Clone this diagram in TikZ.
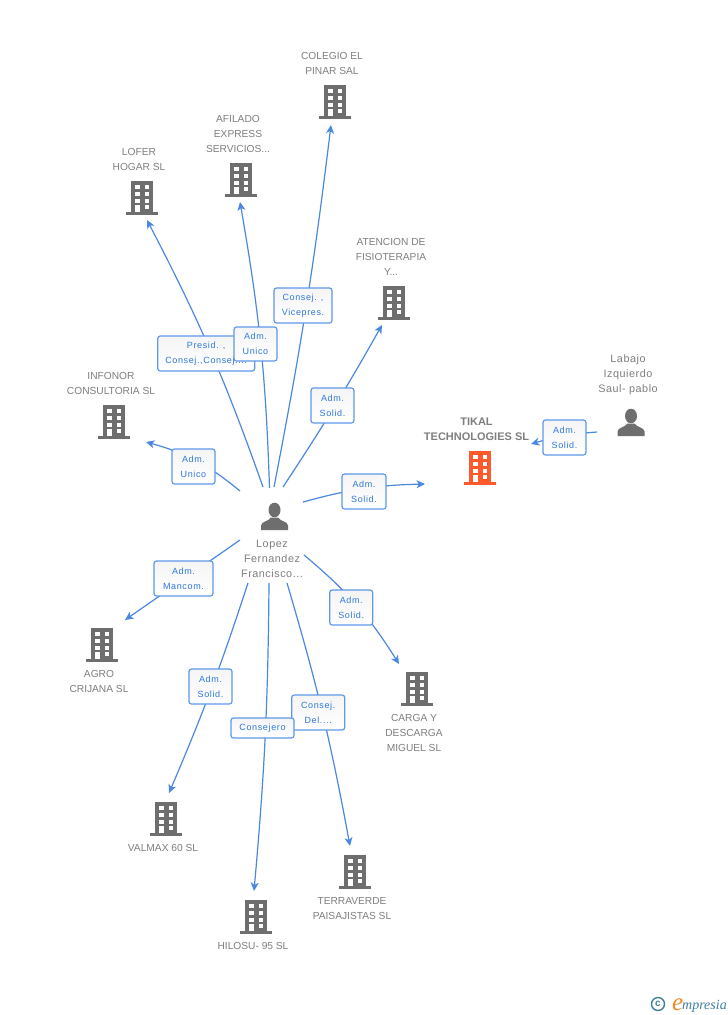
\documentclass[tikz,border=0pt]{standalone}
\usepackage{fontspec}
\usetikzlibrary{arrows.meta}
\setmainfont{Liberation Sans}
\newfontfamily\lab[LetterSpace=7]{Liberation Sans}
\newfontfamily\labb[LetterSpace=5]{Liberation Sans}
\newfontfamily\logofont[Script=Latin]{Liberation Serif}
\definecolor{edgeblue}{HTML}{4A88E2}
\definecolor{boxblue}{HTML}{5F98E8}
\definecolor{labblue}{HTML}{2F78DC}
\definecolor{icongrey}{HTML}{6E6E6E}
\definecolor{txtgrey}{HTML}{7F7F7F}
\definecolor{tikal}{HTML}{FF5A2B}
\definecolor{logoteal}{HTML}{3F7F9F}
\definecolor{logoorange}{HTML}{F08A1E}
\tikzset{
  x=1pt,y=-1pt,
  link/.style={draw=edgeblue,line width=1.2pt,-{Stealth[length=8.5pt,width=8pt,inset=2.4pt]}},
  rel/.style={draw=boxblue,line width=1.2pt,rounded corners=2.5pt,top color=black!4,bottom color=white,
    text=labblue,font=\lab\fontsize{9}{15}\selectfont,align=center,inner sep=0pt},
  reltext/.style={text=labblue,font=\lab\fontsize{9}{15}\selectfont,align=center,inner sep=0pt},
  entity/.style={text=txtgrey,font=\fontsize{10.2}{15}\selectfont,align=center,inner sep=0pt},
  person name/.style={entity,font=\labb\fontsize{10.8}{15}\selectfont},
  bldg/.pic={
    \fill[pic actions] (-16,14) rectangle (16,17);
    \fill[pic actions] (-11,-17) rectangle (11,14.5);
    \foreach \yy/\hh in {-13/-8.7,-6.2/-2,0.5/4.7}{
      \fill[white] (-7,\yy) rectangle (-2.5,\hh);
      \fill[white] (2.7,\yy) rectangle (7.2,\hh);
    }
    \fill[white] (2.7,6.7) rectangle (7.2,11);
    \fill[white] (-7,6.7) rectangle (-2.5,14);
  },
  human/.pic={
    \fill[pic actions] (0,-6.5) ellipse [x radius=6,y radius=7.3];
    \fill[pic actions] (-13.5,13.5) -- (-13.5,9) .. controls (-13.5,5) and (-6,5) .. (-3.5,1)
      -- (3.5,1) .. controls (6,5) and (13.5,5) .. (13.5,9) -- (13.5,13.5) -- cycle;
  },
}
\begin{document}
\begin{tikzpicture}
\useasboundingbox[fill=white] (0,0) rectangle (728,1015);

% connector ends
\coordinate (s1) at (274,487);   \coordinate (e1) at (331,125);
\coordinate (s2) at (269.5,488); \coordinate (e2) at (240,202);
\coordinate (s3) at (263,487);   \coordinate (e3) at (147,220);
\coordinate (s4) at (283,487);   \coordinate (e4) at (382,325);
\coordinate (s5) at (240,491);   \coordinate (e5) at (146,442);
\coordinate (s6) at (303,502);   \coordinate (e6) at (425,484);
\coordinate (s7) at (597,432);   \coordinate (e7) at (531,444);
\coordinate (s8) at (240,540);   \coordinate (e8) at (125,620);
\coordinate (s9) at (248,583);   \coordinate (e9) at (169,793);
\coordinate (s10) at (269,583);  \coordinate (e10) at (254,891);
\coordinate (s11) at (287,583);  \coordinate (e11) at (350,846);
\coordinate (s12) at (304,555);  \coordinate (e12) at (399,664);

\draw[link] (s1) to[bend right=2] (e1);
\draw[link] (s2) to[bend right=4] (e2);
\draw[link] (s3) to[bend right=4] (e3);
\draw[link] (s4) to[bend right=2] (e4);
\draw[link] (s5) to[bend right=12] (e5);
\draw[link] (s6) to[bend left=7] (e6);
\draw[link] (s7) to[bend right=6] (e7);
\draw[link] (s8) to (e8);
\draw[link] (s9) to[bend left=2.5] (e9);
\draw[link] (s10) to[bend left=2.3] (e10);
\draw[link] (s11) to[bend left=3] (e11);
\draw[link] (s12) to[bend left=9] (e12);

% relation labels
\node[rel,minimum width=97pt,minimum height=35pt] (r3) at (206.2,353.5) {};
\node[rel,minimum width=43pt,minimum height=34pt] (r2) at (255.5,344) {Adm.\\Unico};
\node[reltext] (r3t) at (206.2,354) {Presid. ,\\Consej.,Consej....};
\node[rel,minimum width=58pt,minimum height=35pt] (r1) at (303,305.5) {Consej. ,\\Vicepres.};
\node[rel,minimum width=43pt,minimum height=35pt] (r4) at (332.5,405.5) {Adm.\\Solid.};
\node[rel,minimum width=43pt,minimum height=35pt] (r5) at (193.5,466.5) {Adm.\\Unico};
\node[rel,minimum width=44pt,minimum height=35pt] (r6) at (364,491.5) {Adm.\\Solid.};
\node[rel,minimum width=43pt,minimum height=35pt] (r7) at (564.5,437.5) {Adm.\\Solid.};
\node[rel,minimum width=59pt,minimum height=35pt] (r8) at (183.5,578.5) {Adm.\\Mancom.};
\node[rel,minimum width=43pt,minimum height=35pt] (r9) at (210.5,686.5) {Adm.\\Solid.};
\node[rel,minimum width=53pt,minimum height=35pt] (r11) at (318.2,712.5) {Consej.\\Del....};
\node[rel,minimum width=63pt,minimum height=20pt] (r10) at (262.5,728) {Consejero};
\node[rel,minimum width=43pt,minimum height=35pt] (r12) at (351.2,607.5) {Adm.\\Solid.};

% buildings
\pic[fill=icongrey] (b1) at (335,102) {bldg};
\pic[fill=icongrey] (b2) at (241,180) {bldg};
\pic[fill=icongrey] (b3) at (142,198) {bldg};
\pic[fill=icongrey] (b4) at (394,303) {bldg};
\pic[fill=icongrey] (b5) at (114,422) {bldg};
\pic[fill=tikal]    (b6) at (480,468) {bldg};
\pic[fill=icongrey] (b8) at (102,645) {bldg};
\pic[fill=icongrey] (b9) at (166,819) {bldg};
\pic[fill=icongrey] (b10) at (256,917) {bldg};
\pic[fill=icongrey] (b11) at (355,872) {bldg};
\pic[fill=icongrey] (b12) at (417,689) {bldg};
\pic[fill=icongrey] (p1) at (631,422.5) {human};
\pic[fill=icongrey] (p2) at (274.5,516.5) {human};

% names
\node[entity] (n1) at (332,63.5) {COLEGIO EL\\PINAR SAL};
\node[entity] (n2) at (238,134) {AFILADO\\EXPRESS\\SERVICIOS...};
\node[entity] (n3) at (139,159.5) {LOFER\\HOGAR SL};
\node[entity] (n4) at (391,257) {ATENCION DE\\FISIOTERAPIA\\Y...};
\node[entity] (n5) at (111,383.5) {INFONOR\\CONSULTORIA SL};
\node[entity,font=\bfseries\fontsize{11}{15}\selectfont] (n6) at (476.5,429.5) {TIKAL\\TECHNOLOGIES SL};
\node[person name] (n7) at (628,375) {Labajo\\Izquierdo\\Saul- pablo};
\node[person name] (n0) at (272,559) {Lopez\\Fernandez\\Francisco...};
\node[entity] (n8) at (99,681.5) {AGRO\\CRIJANA SL};
\node[entity] (n9) at (163,848) {VALMAX 60 SL};
\node[entity] (n10) at (253,946) {HILOSU- 95 SL};
\node[entity] (n11) at (352,908.5) {TERRAVERDE\\PAISAJISTAS SL};
\node[entity] (n12) at (414,733) {CARGA Y\\DESCARGA\\MIGUEL SL};

% logo
\node[circle,draw=logoteal,line width=1.4pt,minimum size=13pt,inner sep=0pt,text=logoteal,font=\bfseries\fontsize{10}{10}\selectfont] (c) at (658,1004) {c};
\node[inner sep=0pt,anchor=base west,text=logoorange,font=\logofont\itshape\fontsize{25}{25}\selectfont] (le) at (672,1010) {e};
\node[inner sep=0pt,anchor=base west,text=logoteal,font=\logofont\itshape\fontsize{14}{14}\selectfont] (lm) at (682,1009) {mpresia};
\end{tikzpicture}
\end{document}
